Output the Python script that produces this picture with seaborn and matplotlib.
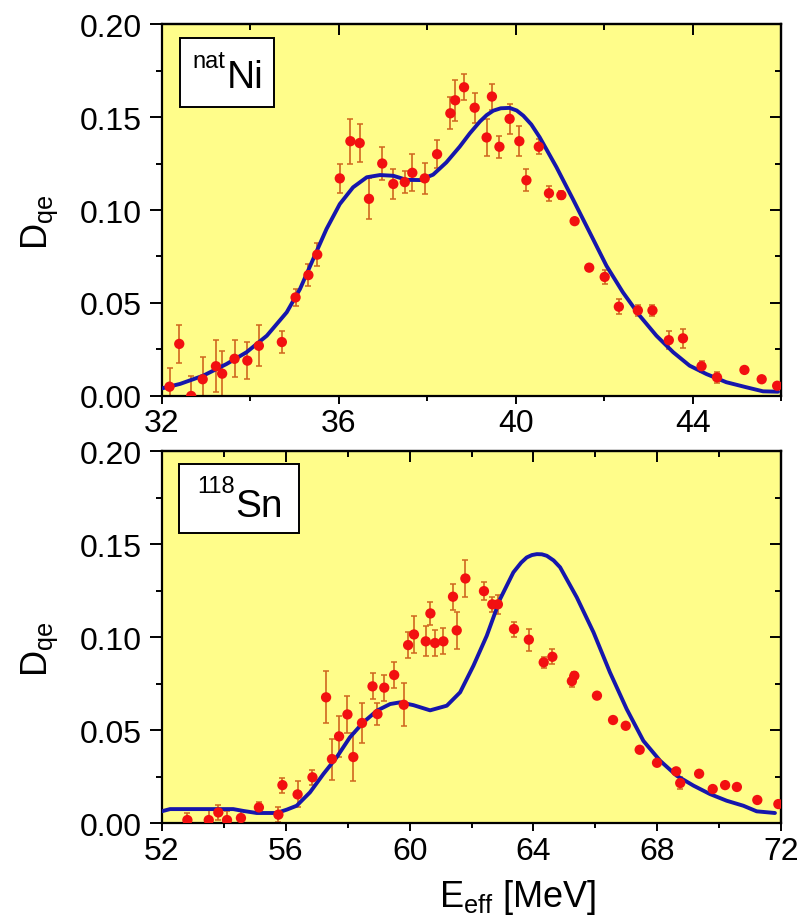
import numpy as np
import pandas as pd
import matplotlib
matplotlib.use("Agg")
import matplotlib.pyplot as plt
import seaborn as sns
from matplotlib.ticker import MultipleLocator, FormatStrFormatter
from matplotlib.patches import Rectangle

# ---- natNi: measured points ----
ni_e = [32.17, 32.39, 32.66, 32.92, 33.22, 33.36, 33.64, 33.93, 34.19, 34.71,
        35.02, 35.31, 35.51, 36.02, 36.26, 36.47, 36.68, 36.98, 37.23, 37.49,
        37.66, 37.94, 38.22, 38.52, 38.63, 38.83, 39.07, 39.34, 39.46, 39.63,
        39.86, 40.08, 40.24, 40.52, 40.75, 41.03, 41.33, 41.66, 42.01, 42.33,
        42.76, 43.09, 43.46, 43.78, 44.20, 44.55, 45.17, 45.56, 45.91]
ni_d = [0.005, 0.028, 0.000, 0.009, 0.016, 0.012, 0.020, 0.019, 0.027, 0.029,
        0.053, 0.065, 0.076, 0.117, 0.137, 0.136, 0.106, 0.125, 0.114, 0.115,
        0.120, 0.117, 0.130, 0.152, 0.159, 0.166, 0.155, 0.139, 0.161, 0.134,
        0.149, 0.137, 0.116, 0.134, 0.109, 0.108, 0.094, 0.069, 0.064, 0.048,
        0.046, 0.046, 0.030, 0.031, 0.016, 0.010, 0.014, 0.009, 0.0055]
ni_err = [0.010, 0.010, 0.011, 0.012, 0.014, 0.012, 0.010, 0.010, 0.011, 0.006,
          0.0045, 0.006, 0.006, 0.008, 0.012, 0.010, 0.011, 0.009, 0.008, 0.006,
          0.010, 0.0085, 0.0076, 0.0086, 0.011, 0.007, 0.008, 0.010, 0.007, 0.006,
          0.008, 0.008, 0.006, 0.004, 0.004, 0.002, 0.0, 0.0, 0.004, 0.004,
          0.003, 0.003, 0.005, 0.005, 0.003, 0.003, 0.0, 0.0, 0.0]

# ---- natNi: calculated curve ----
ni_curve_e = [31.95, 32.41, 32.93, 33.46, 33.91, 34.37, 34.82, 35.12, 35.42, 35.72,
              36.02, 36.32, 36.63, 36.93, 37.23, 37.53, 37.83, 38.13, 38.43, 38.73,
              38.96, 39.19, 39.34, 39.49, 39.66, 39.86, 40.02, 40.17, 40.35, 40.54,
              40.92, 41.29, 41.67, 42.05, 42.42, 42.80, 43.18, 43.56, 43.93, 44.31,
              44.76, 45.21, 45.59, 45.93]
ni_curve_d = [0.0038, 0.0065, 0.0109, 0.0172, 0.0235, 0.0324, 0.0450, 0.0575, 0.0737, 0.0898,
              0.1032, 0.1122, 0.1176, 0.1188, 0.1184, 0.1162, 0.1161, 0.1190, 0.1256, 0.1340,
              0.1412, 0.1476, 0.1510, 0.1534, 0.1547, 0.1549, 0.1535, 0.1507, 0.1460, 0.1391,
              0.1230, 0.1059, 0.0880, 0.0700, 0.0558, 0.0432, 0.0324, 0.0235, 0.0163, 0.0118,
              0.0074, 0.0047, 0.0025, 0.0023]

# ---- 118Sn: measured points ----
sn_e = [52.82, 53.51, 53.82, 54.10, 54.55, 55.13, 55.76, 55.89, 56.38, 56.86,
        57.30, 57.49, 57.72, 57.99, 58.18, 58.46, 58.80, 58.96, 59.18, 59.50,
        59.81, 59.95, 60.14, 60.52, 60.67, 60.82, 61.09, 61.40, 61.52, 61.80,
        62.40, 62.67, 62.85, 63.37, 63.85, 64.33, 64.61, 65.24, 65.32, 66.05,
        66.57, 66.98, 67.43, 67.99, 68.61, 68.74, 69.35, 69.79, 70.19, 70.57,
        71.23, 71.91]
sn_d = [0.0016, 0.0016, 0.0057, 0.0016, 0.0027, 0.0084, 0.0045, 0.0204, 0.0154, 0.0246,
        0.0676, 0.0344, 0.0466, 0.0584, 0.0355, 0.0538, 0.0735, 0.0586, 0.0728, 0.0796,
        0.0636, 0.0957, 0.1014, 0.0977, 0.1127, 0.0968, 0.0977, 0.1217, 0.1036, 0.1315,
        0.1247, 0.1176, 0.1176, 0.1043, 0.0986, 0.0864, 0.0894, 0.0763, 0.0792, 0.0685,
        0.0554, 0.0523, 0.0394, 0.0324, 0.0278, 0.0215, 0.0265, 0.0183, 0.0204, 0.0194,
        0.0124, 0.0102]
sn_err = [0.004, 0.006, 0.004, 0.005, 0.004, 0.003, 0.004, 0.004, 0.007, 0.004,
          0.014, 0.011, 0.011, 0.010, 0.013, 0.011, 0.007, 0.006, 0.007, 0.007,
          0.0115, 0.007, 0.010, 0.008, 0.006, 0.007, 0.007, 0.007, 0.010, 0.010,
          0.005, 0.004, 0.005, 0.004, 0.006, 0.003, 0.004, 0.003, 0.002, 0.0,
          0.0, 0.0, 0.0, 0.0, 0.0, 0.003, 0.0, 0.0, 0.0, 0.0,
          0.0, 0.0]

# ---- 118Sn: calculated curve ----
sn_curve_e = [51.94, 52.26, 54.30, 54.63, 55.06, 55.70, 56.03, 56.35, 56.78, 57.21,
              57.64, 58.07, 58.50, 58.94, 59.37, 59.69, 60.12, 60.66, 61.20, 61.63,
              62.06, 62.49, 62.92, 63.35, 63.60, 63.78, 63.95, 64.11, 64.27, 64.43,
              64.65, 64.86, 65.40, 65.94, 66.47, 67.01, 67.55, 68.09, 68.63, 69.17,
              69.70, 70.24, 70.78, 71.21, 71.80]
sn_curve_d = [0.0061, 0.0075, 0.0075, 0.0065, 0.0054, 0.0054, 0.0072, 0.0093, 0.0165, 0.0263,
              0.0353, 0.0461, 0.0541, 0.0604, 0.0640, 0.0649, 0.0634, 0.0606, 0.0631, 0.0703,
              0.0846, 0.1007, 0.1204, 0.1348, 0.1400, 0.1428, 0.1441, 0.1446, 0.1445, 0.1437,
              0.1412, 0.1375, 0.1213, 0.1025, 0.0810, 0.0613, 0.0442, 0.0335, 0.0254, 0.0201,
              0.0156, 0.0120, 0.0093, 0.0063, 0.0054]

panels = [
    dict(e=ni_e, d=ni_d, err=ni_err, ce=ni_curve_e, cd=ni_curve_d,
         xlim=(32, 46), sup="nat", name="Ni", box=(0.029, 0.777, 0.152, 0.185),
         split=0.1026, base_main=0.8306, base_sup=0.8844),
    dict(e=sn_e, d=sn_d, err=sn_err, ce=sn_curve_e, cd=sn_curve_d,
         xlim=(52, 72), sup="118", name="Sn", box=(0.0275, 0.780, 0.194, 0.185),
         split=0.117, base_main=0.825, base_sup=0.8898),
]

sns.set_theme(style="ticks")
plt.rcParams["font.family"] = ["Liberation Sans", "DejaVu Sans"]
plt.rcParams["mathtext.fontset"] = "custom"
plt.rcParams["mathtext.rm"] = "Liberation Sans"
plt.rcParams["mathtext.it"] = "Liberation Sans"
plt.rcParams["mathtext.bf"] = "Liberation Sans"
plt.rcParams["text.color"] = "black"
plt.rcParams["axes.labelcolor"] = "black"
plt.rcParams["xtick.color"] = "black"
plt.rcParams["ytick.color"] = "black"

FACE = "#FFFD8A"
RED = "#F21010"
ERRC = "#D0661E"
BLUE = "#1616AC"

fig = plt.figure(figsize=(8.02, 9.2), dpi=100)
fig.patch.set_facecolor("white")
ax_rects = [(0.202, 0.5685, 0.772, 0.4043), (0.202, 0.1043, 0.772, 0.4043)]

for rect, p in zip(ax_rects, panels):
    ax = fig.add_axes(rect)
    ax.set_facecolor(FACE)

    ax.errorbar(p["e"], p["d"], yerr=p["err"], fmt="none", ecolor=ERRC,
                elinewidth=1.2, capsize=2.2, capthick=1.1, zorder=2)
    sns.lineplot(x=p["ce"], y=p["cd"], ax=ax, color=BLUE, linewidth=2.8,
                 sort=False, estimator=None, zorder=3)
    sns.scatterplot(x=p["e"], y=p["d"], ax=ax, color=RED, s=55,
                    edgecolor="none", linewidth=0, zorder=4)

    ax.set_xlim(*p["xlim"])
    ax.set_ylim(0, 0.20)
    ax.xaxis.set_major_locator(MultipleLocator(4))
    ax.xaxis.set_minor_locator(MultipleLocator(2))
    ax.yaxis.set_major_locator(MultipleLocator(0.05))
    ax.yaxis.set_minor_locator(MultipleLocator(0.025))
    ax.yaxis.set_major_formatter(FormatStrFormatter("%.2f"))

    for sp in ax.spines.values():
        sp.set_visible(True)
        sp.set_linewidth(1.6)
        sp.set_color("black")

    ax.tick_params(axis="x", which="major", direction="out", length=6, width=1.4,
                   labelsize=23, pad=3, colors="black")
    ax.tick_params(axis="x", which="minor", direction="out", length=3.5, width=1.4)
    ax.tick_params(axis="y", which="major", direction="out", length=8.5, width=1.4,
                   labelsize=23, pad=6, colors="black")
    ax.tick_params(axis="y", which="minor", direction="out", length=4.5, width=1.4)

    # mirrored inward ticks on top and right
    top = ax.secondary_xaxis("top")
    top.xaxis.set_major_locator(MultipleLocator(4))
    top.xaxis.set_minor_locator(MultipleLocator(2))
    top.tick_params(which="major", direction="in", length=8, width=1.4, labeltop=False)
    top.tick_params(which="minor", direction="in", length=4, width=1.4)
    top.spines["top"].set_linewidth(1.6)
    right = ax.secondary_yaxis("right")
    right.yaxis.set_major_locator(MultipleLocator(0.05))
    right.yaxis.set_minor_locator(MultipleLocator(0.025))
    right.tick_params(which="major", direction="in", length=8, width=1.4, labelright=False)
    right.tick_params(which="minor", direction="in", length=4, width=1.4)
    right.spines["right"].set_linewidth(1.6)

    ax.set_ylabel(r"D$_{\mathrm{qe}}$", fontsize=26)
    ax.yaxis.set_label_coords(-0.165, 0.47)
    ax.set_xlabel("")

    # nucleus label box
    bx, by, bw, bh = p["box"]
    ax.add_patch(Rectangle((bx, by), bw, bh, transform=ax.transAxes,
                           facecolor="white", edgecolor="black", linewidth=1.4,
                           zorder=6))
    ax.text(p["split"], p["base_sup"], p["sup"], transform=ax.transAxes,
            ha="right", va="baseline", fontsize=17, color="black", zorder=7)
    ax.text(p["split"] + 0.002, p["base_main"], p["name"], transform=ax.transAxes,
            ha="left", va="baseline", fontsize=28, color="black", zorder=7)

    last_ax = ax

last_ax.set_xlabel(r"E$_{\mathrm{eff}}$ [MeV]", fontsize=26)
last_ax.xaxis.set_label_coords(0.575, -0.145)

fig.savefig("out.png", dpi=100, facecolor="white")
